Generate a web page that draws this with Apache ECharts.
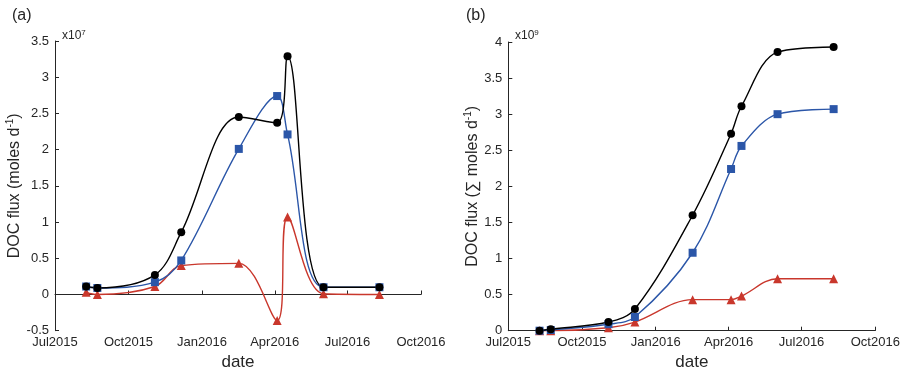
<!DOCTYPE html>
<html>
<head>
<meta charset="utf-8">
<script src="https://cdn.jsdelivr.net/npm/echarts@6/dist/echarts.min.js"></script>
<style>
  html, body { margin: 0; padding: 0; background: #fff; }
  #chart { width: 910px; height: 370px; }
</style>
</head>
<body>
<div id="chart"></div>
<script>
// Sampling dates shared by every series
const sampleDates = ['2015-08-09', '2015-08-23', '2015-11-03', '2015-12-06', '2016-02-16',
                     '2016-04-04', '2016-04-17', '2016-06-01', '2016-08-10'];

// (a) daily DOC flux, moles d^-1, in units of 1e7
const fluxBlack = [0.11, 0.09, 0.27, 0.86, 2.45, 2.37, 3.29, 0.10, 0.10];
const fluxBlue  = [0.11, 0.09, 0.17, 0.47, 2.01, 2.74, 2.21, 0.10, 0.10];
const fluxRed   = [0.03, 0.00, 0.11, 0.40, 0.43, -0.36, 1.07, 0.01, 0.00];

// (b) cumulative DOC flux, sum of moles d^-1, in units of 1e9
const cumBlack = [0.00, 0.02, 0.12, 0.30, 1.60, 2.73, 3.11, 3.86, 3.93];
const cumBlue  = [0.00, 0.01, 0.09, 0.19, 1.08, 2.24, 2.56, 3.00, 3.07];
const cumRed   = [0.00, 0.00, 0.04, 0.12, 0.43, 0.43, 0.48, 0.72, 0.72];

// Axis ticks
const tickDates = ['2015-07-01', '2015-10-01', '2016-01-01', '2016-04-01', '2016-07-01', '2016-10-01'];
const monthNames = ['Jan','Feb','Mar','Apr','May','Jun','Jul','Aug','Sep','Oct','Nov','Dec'];

const toMs = s => { const p = s.split('-').map(Number); return Date.UTC(p[0], p[1] - 1, p[2]); };
const tickMs = tickDates.map(toMs);
const dateMs = sampleDates.map(toMs);
const pair = vals => dateMs.map((t, i) => [t, vals[i]]);
const fmtDate = v => { const d = new Date(v); return monthNames[d.getUTCMonth()] + d.getUTCFullYear(); };

const axisColor = '#262626';
const fontFam = '"Liberation Sans", Arial, Helvetica, sans-serif';
const cBlack = '#000000', cBlue = '#2b56a8', cRed = '#c9372c';

function xAxisFor(idx) {
  return {
    type: 'value', gridIndex: idx, min: tickMs[0], max: tickMs[tickMs.length - 1],
    name: 'date', nameLocation: 'middle', nameGap: 22,
    nameTextStyle: { fontSize: 17, color: axisColor, fontFamily: fontFam },
    axisLine: { show: true, lineStyle: { color: axisColor, width: 1 } },
    axisTick: { show: true, inside: true, length: 4, customValues: tickMs, lineStyle: { color: axisColor } },
    axisLabel: { customValues: tickMs, formatter: fmtDate, fontSize: 13, color: axisColor,
                 fontFamily: fontFam, margin: 5, hideOverlap: false, showMinLabel: true, showMaxLabel: true },
    splitLine: { show: false }
  };
}

function yAxisFor(idx, min, max, nameRich) {
  return {
    type: 'value', gridIndex: idx, min: min, max: max, interval: 0.5,
    name: nameRich, nameLocation: 'middle', nameGap: 27,
    nameTextStyle: {
      color: axisColor, fontFamily: fontFam, fontSize: 16,
      rich: {
        n: { fontSize: 16, color: axisColor, fontFamily: fontFam },
        s: { fontSize: 10, color: axisColor, fontFamily: fontFam, verticalAlign: 'top', padding: [0, 0, 8, 0] }
      }
    },
    axisLine: { show: true, lineStyle: { color: axisColor, width: 1 } },
    axisTick: { show: true, inside: true, length: 4, lineStyle: { color: axisColor } },
    axisLabel: { fontSize: 13, color: axisColor, fontFamily: fontFam, margin: 6,
                 formatter: v => String(Math.round(v * 10) / 10) },
    splitLine: { show: false }
  };
}

function line(idx, data, color, symbol, size) {
  return {
    type: 'line', xAxisIndex: idx, yAxisIndex: idx, data: pair(data),
    smooth: 0.35, symbol: symbol, symbolSize: size, showSymbol: true,
    lineStyle: { color: color, width: 1.4 },
    itemStyle: { color: color, borderWidth: 0 },
    emphasis: { disabled: true }, z: 2
  };
}

const chart = echarts.init(document.getElementById('chart'), null, { renderer: 'canvas' });
chart.setOption({
  animation: false,
  backgroundColor: '#ffffff',
  grid: [
    { left: 55, top: 41, width: 366, height: 289.7, containLabel: false, outerBoundsMode: 'none' },
    { left: 508.3, top: 42, width: 367, height: 288.7, containLabel: false, outerBoundsMode: 'none' }
  ],
  xAxis: [xAxisFor(0), xAxisFor(1)],
  yAxis: [
    yAxisFor(0, -0.5, 3.5, '{n|DOC flux (moles d}{s|-1}{n|)}'),
    yAxisFor(1, 0, 4, '{n|DOC flux (∑ moles d}{s|-1}{n|)}')
  ],
  series: [
    line(0, fluxRed, cRed, 'triangle', 9),
    line(0, fluxBlue, cBlue, 'rect', 8),
    line(0, fluxBlack, cBlack, 'circle', 8),
    line(1, cumRed, cRed, 'triangle', 9),
    line(1, cumBlue, cBlue, 'rect', 8),
    line(1, cumBlack, cBlack, 'circle', 8)
  ],
  graphic: [
    { type: 'text', left: 12, top: 8, style: { text: '(a)', fontSize: 16, fill: axisColor, fontFamily: fontFam } },
    { type: 'text', left: 466, top: 8, style: { text: '(b)', fontSize: 16, fill: axisColor, fontFamily: fontFam } },
    { type: 'text', left: 62, top: 29, style: {
        text: '{n|x10}{s|7}', fill: axisColor, fontFamily: fontFam,
        rich: { n: { fontSize: 12, fill: axisColor, fontFamily: fontFam },
                s: { fontSize: 8, fill: axisColor, fontFamily: fontFam, verticalAlign: 'top', padding: [0, 0, 6, 0] } } } },
    { type: 'text', left: 515, top: 29, style: {
        text: '{n|x10}{s|9}', fill: axisColor, fontFamily: fontFam,
        rich: { n: { fontSize: 12, fill: axisColor, fontFamily: fontFam },
                s: { fontSize: 8, fill: axisColor, fontFamily: fontFam, verticalAlign: 'top', padding: [0, 0, 6, 0] } } } }
  ]
});
</script>
</body>
</html>
